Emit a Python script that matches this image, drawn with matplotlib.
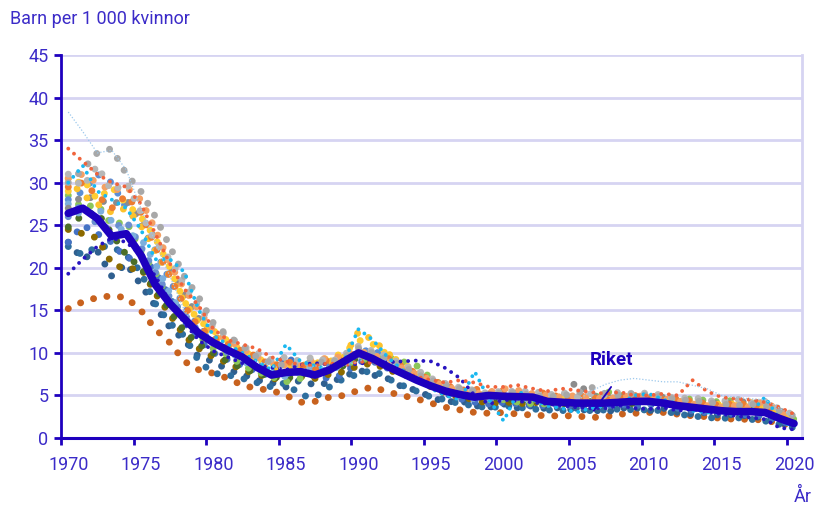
import matplotlib
matplotlib.use("Agg")
import matplotlib.pyplot as plt

plt.rcParams['font.family'] = ['Roboto', 'DejaVu Sans']

years = list(range(1970, 2021))

riket = [26.4, 27.0, 25.8, 23.7, 24.0, 21.5, 18.0, 15.8, 14.0, 12.3,
         11.2, 10.3, 9.5, 8.3, 7.4, 7.7, 7.8, 7.4, 8.0, 9.0,
         10.0, 9.3, 8.4, 7.6, 6.8, 6.1, 5.5, 5.1, 4.8, 5.0,
         4.9, 4.85, 4.8, 4.3, 4.2, 4.1, 4.1, 4.1, 4.2, 4.3,
         4.3, 4.1, 3.8, 3.6, 3.4, 3.2, 3.1, 3.1, 3.0, 2.3,
         1.7]

stockholm = [15.2, 16.0, 16.5, 16.7, 16.5, 15.0, 12.8, 11.2, 9.0, 8.0,
             7.6, 7.0, 6.2, 5.8, 5.6, 5.0, 4.2, 4.3, 4.8, 5.0,
             5.6, 6.0, 5.4, 5.0, 4.6, 4.1, 3.6, 3.3, 3.0, 2.9,
             3.0, 2.8, 2.7, 2.6, 2.6, 2.6, 2.4, 2.5, 2.8, 2.9,
             3.0, 3.0, 2.8, 2.6, 2.5, 2.3, 2.2, 2.2, 2.1, 1.7,
             1.4]

gotland = [19.3, 21.0, 22.5, 23.5, 23.0, 21.5, 19.0, 16.0, 13.5, 11.5,
           10.2, 9.5, 8.8, 8.5, 8.3, 8.0, 8.6, 8.8, 8.6, 8.6,
           8.7, 9.0, 8.9, 9.0, 9.1, 9.0, 8.2, 7.0, 5.0, 4.0,
           4.5, 4.3, 4.2, 4.0, 3.8, 3.6, 3.5, 3.5, 3.8, 3.5,
           3.4, 3.6, 3.2, 3.4, 3.0, 2.8, 2.6, 2.4, 2.2, 1.2,
           1.0]

gavleborg = [34.0, 32.5, 31.0, 30.0, 29.5, 27.5, 24.0, 20.5, 17.5, 15.5,
             12.8, 11.5, 11.0, 10.5, 9.5, 9.0, 8.6, 8.5, 8.8, 8.5,
             9.0, 8.8, 8.5, 7.8, 7.2, 6.8, 6.5, 6.8, 6.5, 6.0,
             6.0, 6.2, 5.8, 5.5, 5.8, 5.6, 5.4, 5.2, 5.4, 5.0,
             5.0, 5.2, 5.0, 6.8, 5.5, 4.8, 4.6, 4.5, 4.2, 3.6,
             2.8]

varmland = [30.0, 31.5, 33.5, 34.0, 31.0, 29.0, 26.0, 22.5, 19.0, 16.5,
            13.5, 12.0, 10.8, 9.5, 8.8, 8.5, 8.5, 9.0, 8.8, 9.5,
            10.5, 10.0, 9.2, 8.5, 7.5, 6.8, 6.2, 5.8, 5.5, 5.0,
            5.4, 5.3, 5.0, 4.8, 5.0, 5.2, 6.0, 5.2, 5.0, 5.2,
            5.0, 4.8, 4.5, 4.4, 4.2, 4.0, 3.8, 4.0, 3.8, 3.2,
            2.6]

vasternorrland = [30.5, 31.0, 30.0, 29.0, 29.5, 28.0, 24.5, 20.5, 17.5, 15.0,
                  12.5, 11.5, 10.5, 9.5, 9.0, 8.5, 8.8, 9.2, 9.4, 9.6,
                  10.2, 9.8, 9.0, 8.2, 7.5, 6.8, 6.0, 5.6, 5.2, 5.4,
                  5.8, 5.6, 5.2, 5.0, 4.8, 5.0, 4.8, 4.6, 4.8, 5.0,
                  4.8, 4.6, 4.4, 4.0, 3.8, 3.6, 3.8, 3.6, 4.4, 3.0,
                  2.4]

jamtland = [30.5, 28.5, 27.5, 26.5, 27.0, 25.0, 22.0, 19.0, 16.0, 13.5,
            12.0, 10.8, 10.0, 9.0, 8.3, 8.0, 8.5, 8.8, 9.0, 9.5,
            12.5, 11.5, 10.0, 8.5, 7.5, 6.5, 5.8, 5.6, 5.3, 5.0,
            4.9, 4.8, 4.6, 4.5, 4.4, 4.3, 4.2, 4.5, 4.6, 4.8,
            4.6, 4.4, 4.2, 4.0, 3.8, 4.0, 4.0, 3.6, 3.5, 3.0,
            2.2]

norrbotten = [30.0, 32.0, 29.0, 28.0, 27.0, 24.5, 21.0, 21.0, 19.5, 15.0,
              12.0, 11.0, 10.0, 9.0, 8.0, 11.0, 9.0, 8.5, 8.0, 9.0,
              12.8, 11.5, 9.5, 8.0, 7.0, 5.8, 5.0, 4.5, 7.8, 4.5,
              2.0, 5.5, 4.5, 3.8, 3.5, 3.0, 3.5, 3.8, 4.0, 5.0,
              5.2, 4.5, 4.0, 3.2, 3.0, 3.0, 2.8, 3.0, 4.8, 2.2,
              1.2]

vasterbotten = [28.0, 29.0, 31.0, 30.0, 27.0, 25.0, 22.0, 18.5, 15.5, 13.0,
                11.5, 10.5, 9.8, 9.0, 8.0, 7.5, 8.0, 8.5, 9.0, 9.5,
                10.0, 10.5, 9.0, 8.0, 7.0, 6.0, 5.5, 5.0, 4.8, 4.6,
                5.0, 4.8, 4.6, 4.4, 4.5, 4.4, 4.3, 4.5, 4.6, 4.5,
                4.4, 4.3, 4.0, 3.8, 3.5, 3.4, 3.4, 3.3, 3.2, 2.6,
                2.0]

dalarna = [28.5, 27.0, 27.5, 25.0, 25.5, 22.0, 19.5, 16.0, 14.5, 12.0,
           10.5, 9.8, 8.5, 7.8, 7.2, 6.6, 7.0, 7.8, 8.0, 8.8,
           9.0, 9.6, 9.5, 9.0, 8.5, 7.0, 6.0, 5.5, 4.8, 4.5,
           4.5, 4.2, 4.0, 4.0, 4.2, 4.0, 4.5, 5.5, 5.0, 4.8,
           4.6, 4.8, 4.5, 4.6, 4.4, 4.2, 4.5, 3.8, 3.8, 3.0,
           2.2]

kalmar = [24.5, 24.0, 23.5, 20.5, 19.8, 20.0, 17.0, 14.5, 12.0, 10.5,
          9.5, 8.8, 8.0, 7.5, 7.0, 6.8, 7.2, 7.0, 7.5, 7.8,
          8.5, 8.8, 8.0, 7.5, 7.0, 6.0, 5.2, 4.8, 4.5, 4.0,
          4.3, 4.0, 4.2, 4.0, 4.4, 4.6, 4.2, 4.0, 4.5, 4.4,
          4.5, 4.6, 4.2, 4.0, 3.6, 3.6, 3.4, 3.2, 3.0, 2.4,
          1.8]

uppsala = [22.5, 21.5, 22.5, 22.5, 21.5, 19.5, 15.8, 13.5, 12.0, 9.0,
           7.6, 7.4, 7.0, 6.5, 6.0, 6.5, 5.0, 4.8, 6.0, 7.0,
           7.5, 8.0, 7.0, 6.2, 5.5, 4.8, 4.5, 4.0, 3.8, 3.5,
           3.8, 3.6, 3.4, 3.3, 3.2, 3.5, 3.2, 3.3, 3.4, 3.3,
           3.3, 3.2, 2.8, 2.6, 2.4, 2.3, 2.4, 2.2, 2.0, 1.6,
           1.2]

halland = [24.8, 26.2, 26.5, 24.0, 21.5, 20.0, 17.5, 15.0, 12.5, 11.0,
           10.0, 9.0, 8.2, 7.6, 7.2, 7.0, 7.4, 7.8, 8.0, 8.5,
           9.5, 9.4, 8.5, 8.0, 7.4, 6.5, 5.8, 5.4, 5.0, 4.8,
           4.6, 4.5, 4.4, 4.2, 4.0, 4.1, 4.3, 4.4, 4.3, 4.0,
           4.4, 4.5, 4.0, 3.8, 3.7, 3.5, 3.4, 3.4, 3.2, 2.5,
           1.8]

blekinge = [38.3, 36.0, 33.5, 33.8, 31.5, 27.0, 23.0, 19.0, 15.0, 12.5,
            11.0, 10.0, 9.5, 9.0, 8.5, 8.0, 8.0, 8.5, 8.0, 8.5,
            9.0, 9.5, 9.0, 8.0, 7.0, 6.0, 5.5, 5.0, 4.8, 4.6,
            4.6, 4.5, 4.5, 4.5, 4.4, 4.3, 5.5, 6.3, 6.8, 7.0,
            6.8, 6.6, 6.6, 6.2, 5.8, 5.0, 4.8, 4.6, 4.5, 3.5,
            2.5]

ostergotland = [27.0, 28.5, 28.0, 27.5, 28.0, 25.5, 23.5, 20.0, 17.0, 14.0,
                12.0, 11.0, 10.0, 9.0, 8.2, 8.0, 8.2, 8.5, 8.8, 9.2,
                9.8, 9.5, 9.0, 8.0, 7.2, 6.2, 5.6, 5.2, 5.0, 4.7,
                5.0, 5.1, 4.8, 4.7, 4.8, 6.6, 5.0, 4.8, 4.7, 4.9,
                4.6, 4.8, 4.3, 4.2, 4.1, 4.0, 4.2, 4.3, 4.0, 3.2,
                2.5]

orebro = [23.0, 25.0, 24.0, 23.0, 21.0, 21.5, 19.5, 16.5, 13.5, 11.5,
          10.0, 9.2, 8.5, 7.8, 7.2, 9.8, 8.0, 7.2, 7.0, 7.5,
          9.0, 9.0, 8.2, 7.8, 7.0, 6.5, 5.2, 4.6, 4.2, 4.0,
          4.2, 4.0, 3.8, 3.8, 3.9, 3.7, 3.6, 3.8, 3.9, 3.8,
          3.9, 4.0, 3.5, 3.2, 3.0, 3.0, 2.8, 2.7, 2.6, 2.0,
          1.6]

skane = [23.0, 21.0, 22.0, 19.0, 20.5, 18.0, 15.5, 13.0, 11.5, 9.5,
         9.0, 8.0, 7.5, 6.8, 6.5, 6.0, 6.8, 6.2, 6.5, 7.2,
         8.0, 7.4, 7.0, 6.0, 5.6, 4.8, 4.2, 4.4, 3.8, 3.6,
         4.0, 3.5, 3.8, 3.4, 3.6, 3.2, 3.4, 3.0, 3.5, 3.6,
         3.2, 3.5, 3.0, 2.8, 3.0, 2.6, 2.8, 2.5, 2.4, 1.8,
         1.5]

vastra_gotaland = [26.0, 27.5, 25.0, 24.5, 25.5, 22.5, 19.5, 16.5, 14.5, 12.5,
                   11.5, 10.0, 9.6, 8.6, 7.8, 8.2, 7.6, 8.0, 8.4, 9.0,
                   10.2, 9.0, 8.8, 7.6, 7.0, 6.4, 5.4, 5.0, 4.9, 4.5,
                   5.2, 4.6, 4.9, 4.4, 4.0, 4.3, 4.0, 4.2, 4.0, 4.4,
                   4.1, 4.3, 3.9, 3.5, 3.6, 3.1, 3.3, 3.0, 3.1, 2.4,
                   1.8]

jonkoping = [31.0, 29.5, 32.0, 29.0, 30.0, 26.5, 23.0, 21.0, 18.0, 15.5,
             13.0, 12.0, 10.8, 10.0, 9.2, 9.5, 9.0, 9.6, 8.8, 9.8,
             10.8, 10.2, 9.6, 8.6, 8.0, 7.0, 6.4, 5.9, 5.6, 5.2,
             5.6, 5.4, 5.6, 5.0, 5.4, 4.8, 5.2, 5.0, 5.4, 5.2,
             5.3, 5.0, 4.6, 4.8, 4.4, 4.3, 4.6, 4.1, 4.3, 3.4,
             2.7]

kronoberg = [29.0, 30.5, 28.0, 29.5, 27.5, 26.0, 23.5, 20.0, 16.0, 13.8,
             12.6, 11.4, 10.2, 9.4, 8.6, 8.8, 8.2, 9.0, 9.4, 10.0,
             11.5, 11.0, 9.8, 8.8, 7.8, 6.6, 6.0, 5.4, 5.0, 5.2,
             4.8, 5.0, 4.6, 4.4, 4.6, 4.5, 4.2, 4.4, 4.8, 4.5,
             4.8, 4.5, 4.3, 4.1, 4.0, 3.8, 3.9, 4.2, 3.6, 2.9,
             2.4]

sodermanland = [27.5, 26.0, 27.0, 25.5, 24.0, 23.5, 20.5, 17.0, 14.2, 12.8,
                11.0, 10.4, 9.0, 8.4, 7.6, 7.2, 7.8, 8.2, 7.8, 8.8,
                9.6, 9.8, 8.6, 8.0, 7.2, 6.2, 5.6, 5.0, 4.6, 4.8,
                4.6, 4.8, 4.4, 4.6, 4.2, 4.4, 4.6, 4.2, 4.4, 4.6,
                4.4, 4.6, 4.2, 3.8, 3.9, 3.6, 3.7, 3.5, 3.3, 2.7,
                2.0]

vastmanland = [29.5, 30.0, 28.5, 27.0, 28.5, 26.5, 22.5, 19.0, 15.5, 13.0,
               11.8, 11.0, 10.2, 9.6, 8.4, 9.0, 8.6, 8.0, 9.4, 9.2,
               10.0, 9.0, 9.4, 8.4, 7.6, 6.8, 6.2, 5.6, 5.8, 5.2,
               5.6, 5.2, 5.0, 5.4, 4.6, 5.0, 4.8, 4.4, 4.6, 5.0,
               4.7, 4.5, 4.6, 4.3, 4.0, 3.8, 4.1, 3.9, 3.7, 3.0,
               2.3]

counties = [stockholm, skane, uppsala, orebro, kalmar, halland, dalarna,
            vastra_gotaland, vasterbotten, sodermanland, ostergotland,
            kronoberg, jamtland, vastmanland, vasternorrland, jonkoping,
            varmland, gotland, norrbotten, gavleborg, blekinge]

LARGE, SMALL = 5.0, 2.8
styles = [
    ('#c8621e', LARGE), ('#2f5f8f', LARGE), ('#2e6e9e', LARGE),
    ('#4472c4', LARGE), ('#8c6a00', LARGE), ('#4b6e28', LARGE),
    ('#8cc65a', LARGE), ('#698ed0', LARGE), ('#5b8fd6', LARGE),
    ('#7cafdd', LARGE), ('#8c8c8c', LARGE), ('#ffcd33', LARGE),
    ('#fdc22c', LARGE), ('#ed7d31', LARGE), ('#f4a064', LARGE),
    ('#b7b7b7', LARGE), ('#a8a8a8', LARGE),
    ('#2814c0', SMALL), ('#1ab8f0', SMALL), ('#f0643c', SMALL),
    ('#9cc8ec', 0.9),
]

TEXT = '#3b2bc8'
DARK = '#1e00be'
GRID = '#d6d4f2'

fig = plt.figure(figsize=(8.23, 5.08), dpi=100)
ax = fig.add_axes([61/823, 1-438/508, (802-61)/823, (438-55)/508])

for vals, (col, lw) in zip(counties, styles):
    if lw < 1.5:
        ax.plot(years, vals, color=col, lw=lw, linestyle=(0, (1, 1.5)), zorder=2)
    else:
        ax.plot(years, vals, color=col, lw=lw, linestyle=(0, (0.01, 1.95)),
                dash_capstyle='round', zorder=2)

ax.plot(years, riket, color=DARK, lw=5.5, solid_capstyle='round',
        solid_joinstyle='round', zorder=5)

ax.annotate('', xy=(2006.2, 3.2), xytext=(2007.4, 6.0),
            arrowprops=dict(arrowstyle='-', color=DARK, lw=1.3,
                            shrinkA=0, shrinkB=0), zorder=6)
ax.text(2007.4, 9.2, 'Riket', ha='center', va='center', color=DARK,
        fontsize=13.5, fontweight='bold', zorder=6)

ax.set_xlim(1969.5, 2020.55)
ax.set_ylim(0, 45)

ax.set_xticks([y - 0.5 for y in range(1970, 2021, 5)])
ax.set_xticklabels([])
ax.set_xticks(list(range(1970, 2021, 5)), minor=True)
ax.set_xticklabels([str(y) for y in range(1970, 2021, 5)], minor=True)
ax.tick_params(axis='x', which='major', length=5, width=2, color=DARK, direction='out')
ax.tick_params(axis='x', which='minor', length=0, pad=13, labelsize=13, labelcolor=TEXT)

ax.set_yticks(list(range(0, 46, 5)))
ax.tick_params(axis='y', length=5, width=2, color=DARK, labelsize=13,
               labelcolor=TEXT, pad=4)

ax.yaxis.grid(True, color=GRID, lw=2)
ax.set_axisbelow(True)
ax.spines['top'].set_visible(False)
ax.spines['right'].set_color(GRID)
ax.spines['right'].set_linewidth(2)
ax.spines['left'].set_color(DARK)
ax.spines['left'].set_linewidth(2)
ax.spines['bottom'].set_color(DARK)
ax.spines['bottom'].set_linewidth(2.2)

fig.text(10/823, 1-19/508, 'Barn per 1 000 kvinnor', ha='left', va='center',
         fontsize=13, color=TEXT)
fig.text(803/823, 1-497/508, 'År', ha='center', va='center', fontsize=13, color=TEXT)

fig.savefig('out.png', dpi=100)
